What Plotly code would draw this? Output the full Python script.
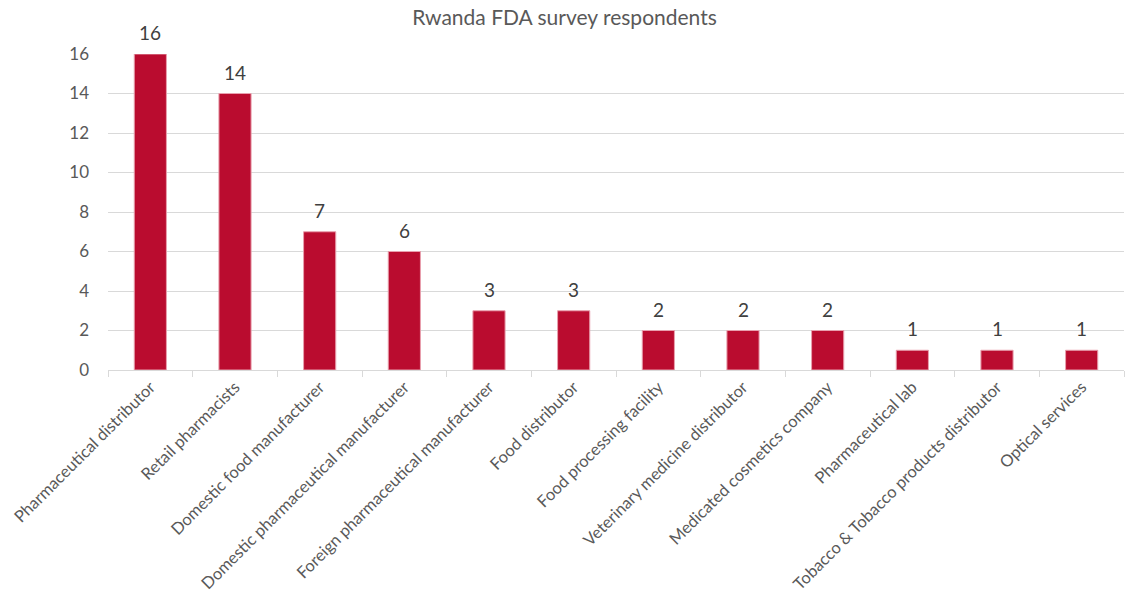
import plotly.graph_objects as go

# Survey respondents by organisation type
categories = [
    "Pharmaceutical distributor",
    "Retail pharmacists",
    "Domestic food manufacturer",
    "Domestic pharmaceutical manufacturer",
    "Foreign pharmaceutical manufacturer",
    "Food distributor",
    "Food processing facility",
    "Veterinary medicine distributor",
    "Medicated cosmetics company",
    "Pharmaceutical lab",
    "Tobacco & Tobacco products distributor",
    "Optical services",
]
respondents = [16, 14, 7, 6, 3, 3, 2, 2, 2, 1, 1, 1]
y_ticks = [0, 2, 4, 6, 8, 10, 12, 14, 16]

FONT = "Lato, 'Open Sans', sans-serif"
TEXT = "#595959"
BAR = "#BA0C2F"

fig = go.Figure(
    go.Bar(
        x=categories,
        y=respondents,
        marker=dict(color=BAR, line=dict(color="#E8A0AE", width=1)),
        hoverinfo="x+y",
    )
)

# Value labels sitting above each bar
for cat, val in zip(categories, respondents):
    fig.add_annotation(
        x=cat,
        y=val,
        text=str(val),
        showarrow=False,
        yanchor="bottom",
        yshift=8,
        font=dict(family=FONT, size=19, color="#404040"),
    )

fig.update_layout(
    width=1129,
    height=598,
    margin=dict(l=108, r=5, t=54, b=228),
    paper_bgcolor="white",
    plot_bgcolor="white",
    bargap=0.62,
    showlegend=False,
    title=dict(
        text="Rwanda FDA survey respondents",
        x=0.5,
        xanchor="center",
        y=0.97,
        yanchor="middle",
        font=dict(family=FONT, size=21, color=TEXT),
    ),
)

fig.update_yaxes(
    range=[0, 16],
    tickvals=y_ticks,
    showgrid=True,
    gridcolor="#D9D9D9",
    gridwidth=1,
    zeroline=False,
    showline=False,
    ticks="",
    ticklabelstandoff=18,
    tickfont=dict(family=FONT, size=17, color=TEXT),
)

fig.update_xaxes(
    tickangle=-45,
    showline=True,
    linecolor="#D9D9D9",
    linewidth=1,
    ticks="outside",
    tickson="boundaries",
    ticklen=6,
    tickcolor="#D9D9D9",
    tickfont=dict(family=FONT, size=16.5, color=TEXT),
)

fig.write_html("out.html")
